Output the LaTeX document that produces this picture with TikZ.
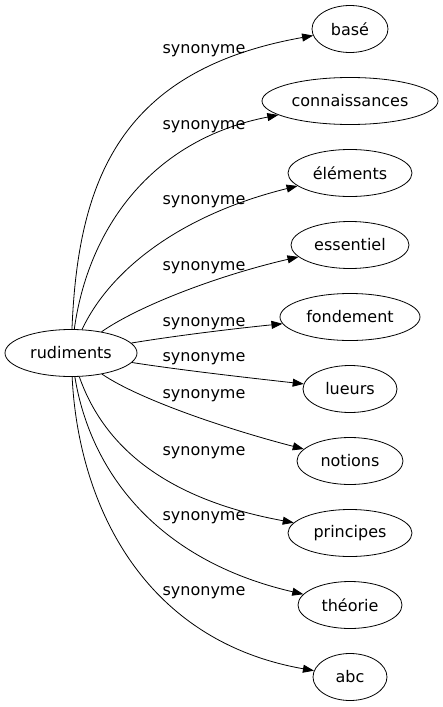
\documentclass[tikz,border=0pt]{standalone}
\usepackage{fontspec}
\setmainfont{DejaVu Sans}
\usetikzlibrary{arrows.meta,shapes.geometric}
\begin{document}
\begin{tikzpicture}[x=1pt,y=-1pt,
  term/.style={draw, ellipse, line width=0.8pt, inner sep=0pt, minimum height=47pt, font=\fontsize{16}{19}\selectfont},
  lbl/.style={font=\fontsize{16}{19}\selectfont, inner sep=0pt},
  edge/.style={draw, line width=0.8pt, -{Triangle[length=11pt,width=8pt]}}]
\useasboundingbox (0,0) rectangle (443,707);
\node[term, minimum width=132pt] (rud) at (71,353) {rudiments};
\node[term, minimum width=76pt] (base) at (350,29) {basé};
\node[term, minimum width=176pt] (conn) at (350,101) {connaissances};
\node[term, minimum width=124pt] (elem) at (350,173) {éléments};
\node[term, minimum width=118pt] (ess) at (350,245) {essentiel};
\node[term, minimum width=140pt] (fond) at (350,317) {fondement};
\node[term, minimum width=94pt] (lue) at (350,389) {lueurs};
\node[term, minimum width=106pt] (not) at (350,461) {notions};
\node[term, minimum width=124pt] (prin) at (350,533) {principes};
\node[term, minimum width=104pt] (theo) at (350,605) {théorie};
\node[term, minimum width=74pt] (abc) at (350,677) {abc};

\draw[edge] (rud) .. controls (78,180) and (120,70) .. (base);
\draw[edge] (rud) .. controls (88,230) and (150,140) .. (conn);
\draw[edge] (rud) .. controls (110,270) and (180,215) .. (elem);
\draw[edge] (rud) .. controls (140,305) and (220,275) .. (ess);
\draw[edge] (rud) .. controls (180,335) and (240,328) .. (fond);
\draw[edge] (rud) .. controls (180,370) and (250,378) .. (lue);
\draw[edge] (rud) .. controls (140,400) and (230,430) .. (not);
\draw[edge] (rud) .. controls (105,450) and (170,500) .. (prin);
\draw[edge] (rud) .. controls (90,470) and (155,560) .. (theo);
\draw[edge] (rud) .. controls (78,500) and (140,640) .. (abc);

\node[lbl] (l1) at (204,51) {synonyme};
\node[lbl] (l2) at (204,127) {synonyme};
\node[lbl] (l3) at (204,202) {synonyme};
\node[lbl] (l4) at (204,268) {synonyme};
\node[lbl] (l5) at (204,324) {synonyme};
\node[lbl] (l6) at (204,359) {synonyme};
\node[lbl] (l7) at (204,396) {synonyme};
\node[lbl] (l8) at (204,453) {synonyme};
\node[lbl] (l9) at (204,518) {synonyme};
\node[lbl] (l10) at (204,593) {synonyme};
\end{tikzpicture}
\end{document}
